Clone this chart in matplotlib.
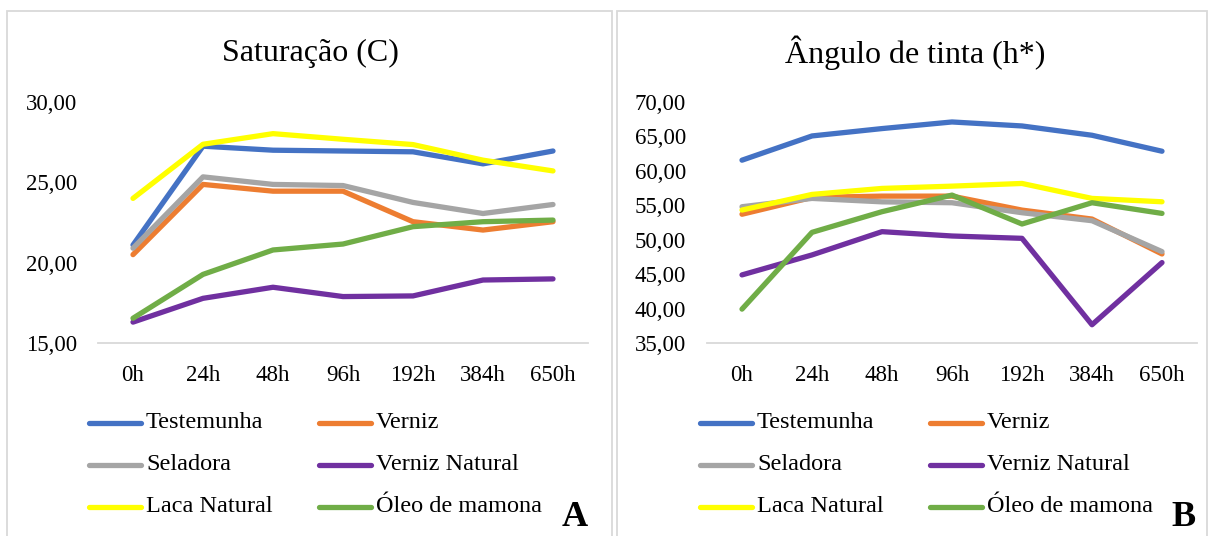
import matplotlib
matplotlib.use("Agg")
import matplotlib.pyplot as plt
from matplotlib.lines import Line2D
from matplotlib.patches import Rectangle
from matplotlib.ticker import FuncFormatter

plt.rcParams['font.family'] = ['Liberation Serif', 'DejaVu Serif']

categories = ["0h", "24h", "48h", "96h", "192h", "384h", "650h"]
series_names = ["Testemunha", "Verniz", "Seladora", "Verniz Natural", "Laca Natural", "Óleo de mamona"]
colors = ["#4472C4", "#ED7D31", "#A5A5A5", "#7030A0", "#FFFF00", "#70AD47"]

# Saturação (C)
sat_testemunha = [21.1, 27.25, 27.0, 26.95, 26.9, 26.15, 26.95]
sat_verniz = [20.5, 24.87, 24.45, 24.45, 22.55, 22.03, 22.55]
sat_seladora = [20.9, 25.34, 24.87, 24.8, 23.75, 23.06, 23.62]
sat_verniz_nat = [16.3, 17.78, 18.47, 17.89, 17.93, 18.92, 18.99]
sat_laca = [24.0, 27.37, 28.03, 27.68, 27.35, 26.38, 25.71]
sat_oleo = [16.54, 19.27, 20.79, 21.16, 22.24, 22.55, 22.65]

# Ângulo de tinta (h*)
ang_testemunha = [61.55, 65.07, 66.14, 67.1, 66.52, 65.17, 62.85]
ang_verniz = [53.7, 56.14, 56.33, 56.33, 54.3, 53.0, 47.93]
ang_seladora = [54.79, 56.0, 55.5, 55.37, 53.92, 52.76, 48.27]
ang_verniz_nat = [44.89, 47.79, 51.17, 50.54, 50.2, 37.65, 46.68]
ang_laca = [54.31, 56.58, 57.45, 57.78, 58.17, 56.0, 55.51]
ang_oleo = [39.92, 51.07, 54.07, 56.48, 52.28, 55.37, 53.82]

sat_series = [sat_testemunha, sat_verniz, sat_seladora, sat_verniz_nat, sat_laca, sat_oleo]
ang_series = [ang_testemunha, ang_verniz, ang_seladora, ang_verniz_nat, ang_laca, ang_oleo]

W, H = 1210, 536
fig = plt.figure(figsize=(W / 100, H / 100), dpi=100)

def px(x0, y0, w, h):
    return [x0 / W, 1 - (y0 + h) / H, w / W, h / H]

GRID = "#D9D9D9"

# panel borders
for (x0, x1) in [(7, 612), (617, 1207)]:
    fig.add_artist(Rectangle((x0 / W, -0.05), (x1 - x0) / W, 1 - 11 / H + 0.05,
                             transform=fig.transFigure, fill=False,
                             edgecolor=GRID, lw=1.3))

fmt = FuncFormatter(lambda v, p: f"{v:.2f}".replace(".", ","))

def make_axes(rect, series, ylim, yticks, title, title_x, letter, letter_x, leg_x):
    ax = fig.add_axes(rect)
    x = list(range(len(categories)))
    for s, c in zip(series, colors):
        ax.plot(x, s, color=c, lw=3.8, solid_capstyle='round', solid_joinstyle='round')
    ax.set_xlim(-0.5, len(categories) - 0.5)
    ax.set_ylim(*ylim)
    ax.set_yticks(yticks)
    ax.yaxis.set_major_formatter(fmt)
    ax.set_xticks(x)
    ax.set_xticklabels(categories)
    for sp in ["top", "right", "left"]:
        ax.spines[sp].set_visible(False)
    ax.spines["bottom"].set_color(GRID)
    ax.spines["bottom"].set_linewidth(1.3)
    ax.tick_params(axis='both', length=0, labelsize=16.5)
    ax.tick_params(axis='x', pad=16)
    ax.tick_params(axis='y', pad=15)
    ax.patch.set_alpha(0)
    fig.text(title_x / W, 1 - 53 / H, title, ha='center', va='center', fontsize=23)
    fig.text(letter_x / W, 1 - 517 / H, letter, ha='center', va='center',
             fontsize=26, fontweight='bold')
    # legend
    rows = [423, 465, 507]
    cols = [leg_x, leg_x + 230]
    for i, (name, c) in enumerate(zip(series_names, colors)):
        r = rows[i // 2]
        cx = cols[i % 2]
        fig.add_artist(Line2D([cx / W, (cx + 52) / W], [1 - r / H, 1 - r / H],
                              transform=fig.transFigure, color=c, lw=3.8,
                              solid_capstyle='round'))
        fig.text((cx + 57) / W, 1 - r / H, name, ha='left', va='center', fontsize=17.5)
    return ax

make_axes(px(98, 102, 490, 241), sat_series, (15, 30), [15, 20, 25, 30],
          "Saturação (C)", 310, "A", 575, 89)
make_axes(px(707, 102, 490, 241), ang_series, (35, 70), list(range(35, 71, 5)),
          "Ângulo de tinta (h*)", 915, "B", 1183, 700)

fig.savefig("out.png", dpi=100)
